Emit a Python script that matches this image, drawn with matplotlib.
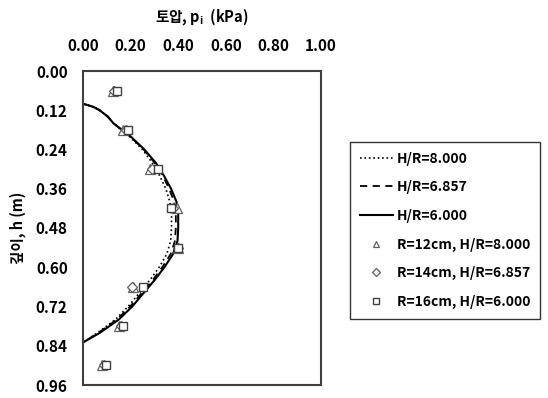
import matplotlib
matplotlib.use("Agg")
import matplotlib.pyplot as plt
import numpy as np

plt.rcParams['font.family'] = ['Noto Sans CJK KR', 'DejaVu Sans']
plt.rcParams['font.weight'] = 'bold'
plt.rcParams['axes.labelweight'] = 'bold'
plt.rcParams['font.size'] = 11

#------------------------- theory curves ----------------------------------
depth_curve = [0.10, 0.11, 0.12, 0.14, 0.16, 0.20, 0.24, 0.28, 0.32, 0.36, 0.40,
               0.44, 0.48, 0.52, 0.56, 0.60, 0.64, 0.68, 0.72, 0.76, 0.80, 0.83]
p_hr8000 = [0.0, 0.045, 0.07, 0.105, 0.127, 0.195, 0.25, 0.29, 0.322, 0.348, 0.365,
            0.372, 0.372, 0.368, 0.352, 0.32, 0.28, 0.235, 0.19, 0.136, 0.062, 0.0]
p_hr6857 = [0.0, 0.045, 0.07, 0.105, 0.128, 0.198, 0.255, 0.30, 0.335, 0.362, 0.383,
            0.39, 0.39, 0.386, 0.368, 0.333, 0.292, 0.245, 0.198, 0.142, 0.066, 0.0]
p_hr6000 = [0.0, 0.045, 0.07, 0.105, 0.128, 0.20, 0.258, 0.305, 0.34, 0.37, 0.393,
            0.40, 0.40, 0.397, 0.378, 0.342, 0.30, 0.253, 0.207, 0.15, 0.072, 0.0]

#------------------------- measured ----------------------------------
depth_test = [0.06, 0.18, 0.30, 0.42, 0.54, 0.66, 0.78, 0.90]
p_r12 = [0.125, 0.17, 0.28, 0.395, 0.40, 0.21, 0.15, 0.08]
p_r14 = [0.13, 0.18, 0.29, 0.38, 0.40, 0.206, 0.16, 0.09]
p_r16 = [0.143, 0.189, 0.315, 0.37, 0.40, 0.252, 0.168, 0.097]

x_ticks = [0.0, 0.2, 0.4, 0.6, 0.8, 1.0]
y_ticks = [0.0, 0.12, 0.24, 0.36, 0.48, 0.60, 0.72, 0.84, 0.96]

fig = plt.figure(figsize=(5.48, 3.98), dpi=100)
ax = fig.add_axes([83/548, 13/398, 238/548, 314/398])

ax.plot(p_hr8000, depth_curve, ':', color='black', lw=1.2, label='H/R=8.000')
ax.plot(p_hr6857, depth_curve, '--', color='black', lw=1.3, dashes=(4, 3), label='H/R=6.857')
ax.plot(p_hr6000, depth_curve, '-', color='black', lw=1.5, label='H/R=6.000')
ax.plot(p_r12, depth_test, '^', ms=6.5, mfc='white', mec='#606060', mew=0.9,
        ls='none', label='R=12cm, H/R=8.000')
ax.plot(p_r14, depth_test, 'D', ms=5, mfc='white', mec='#606060', mew=0.9,
        ls='none', label='R=14cm, H/R=6.857')
ax.plot(p_r16, depth_test, 's', ms=6.2, mfc='white', mec='#404040', mew=1.0,
        ls='none', label='R=16cm, H/R=6.000')

ax.set_xlim(0, 1.0)
ax.set_ylim(0.96, 0)
ax.set_xticks(x_ticks)
ax.set_yticks(y_ticks)
ax.set_xticklabels(['%.2f' % v for v in x_ticks])
ax.set_yticklabels(['%.2f' % v for v in y_ticks])
ax.xaxis.tick_top()
ax.xaxis.set_label_position('top')
ax.tick_params(axis='x', length=0, pad=12)
ax.tick_params(axis='y', length=0, pad=11)
for s in ax.spines.values():
    s.set_color('#404040')
    s.set_linewidth(1.5)

ax.set_xlabel('토압, p$_\\mathregular{i}$  (kPa)', labelpad=12, fontsize=10.5)
ax.set_ylabel('깊이, h (m)', labelpad=7, fontsize=10.5)

leg = ax.legend(bbox_to_anchor=(350/548, 1 - 142/398), bbox_transform=fig.transFigure,
                loc='upper left', frameon=True, fancybox=False, handlelength=2.4,
                handletextpad=0.3, labelspacing=1.05, borderpad=0.7, borderaxespad=0,
                markerscale=0.75, fontsize=10)
leg.get_frame().set_edgecolor('black')
leg.get_frame().set_linewidth(1.0)

fig.savefig("out.png")
